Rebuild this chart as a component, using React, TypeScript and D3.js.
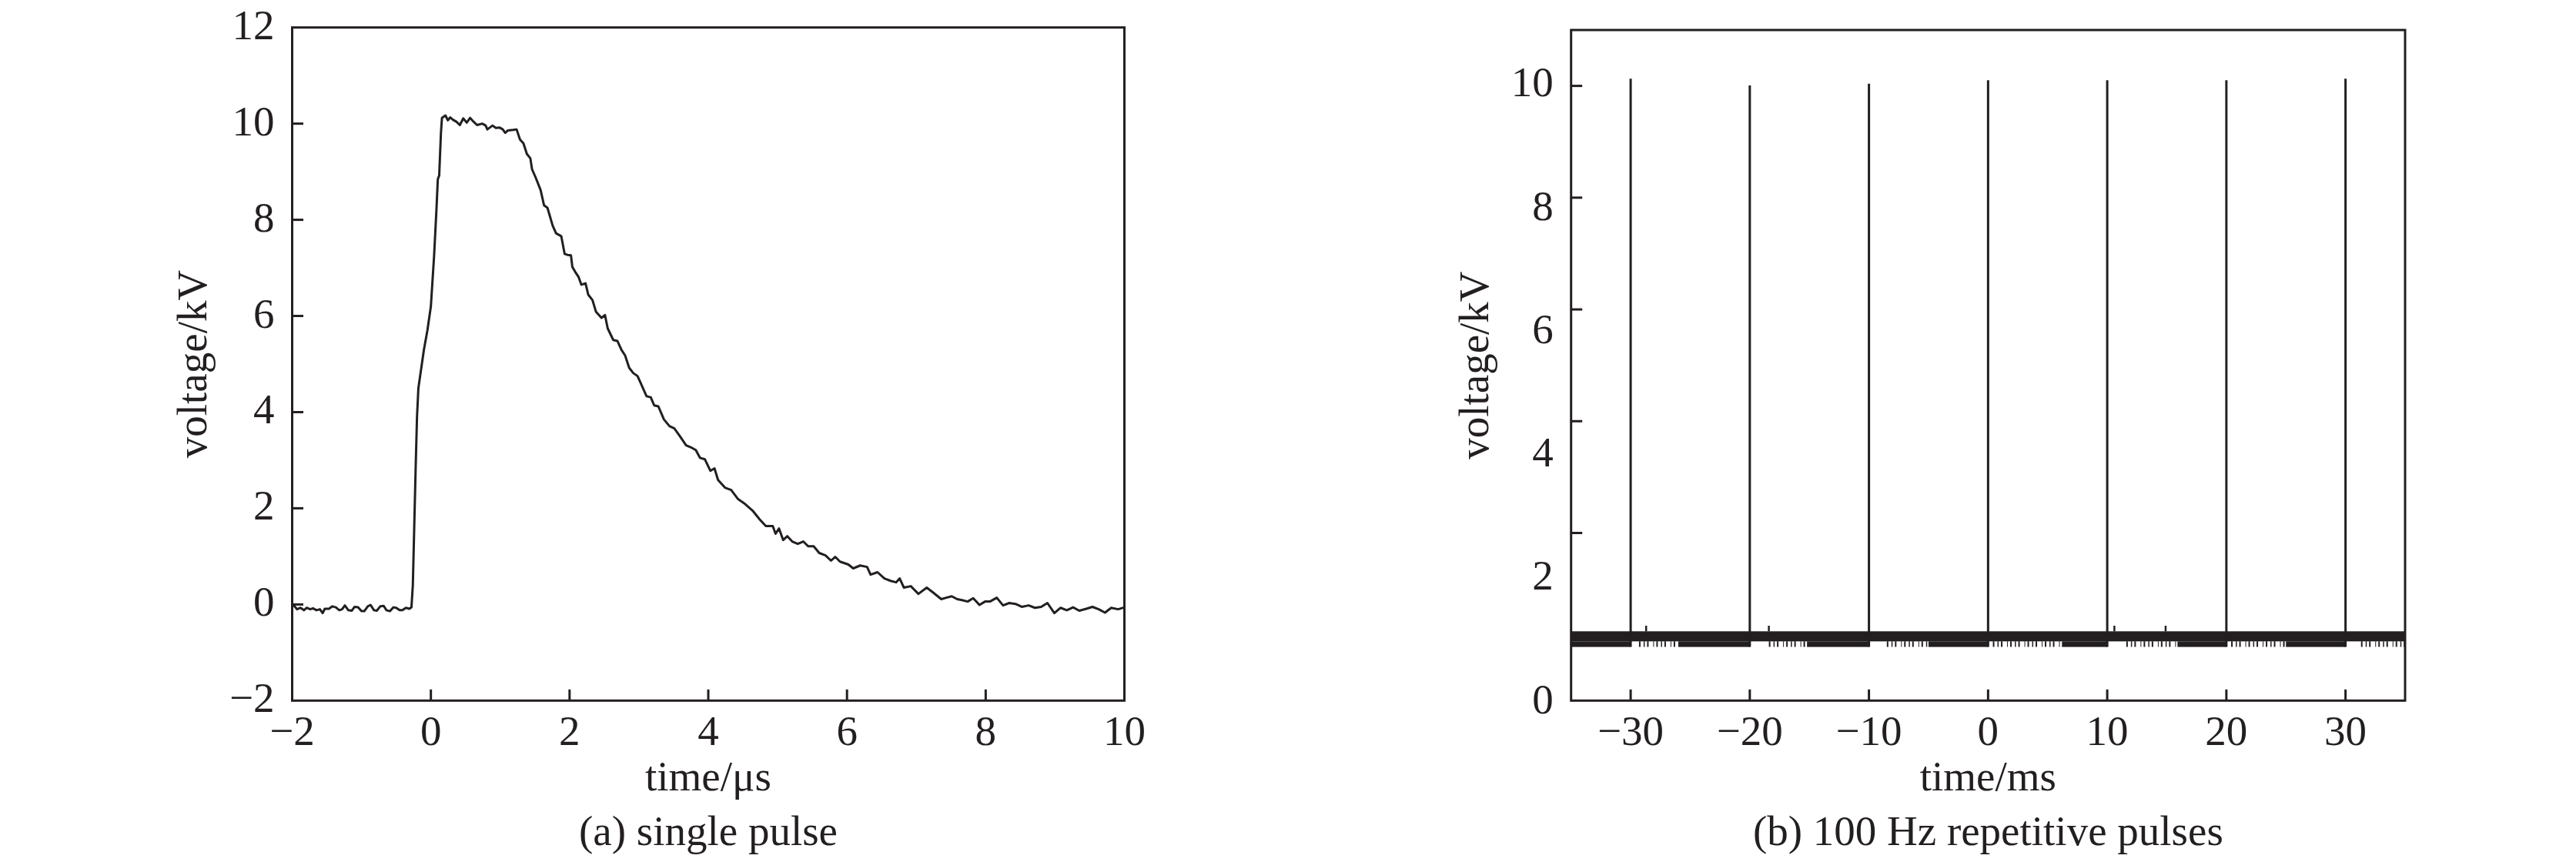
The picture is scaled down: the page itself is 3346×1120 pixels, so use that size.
import React from "react";
import * as d3 from "d3";

const W = 3346;
const H = 1120;
const FONT = "'Liberation Serif', 'Times New Roman', Times, serif";
const INK = "#231f20";

// ---------- (a) single pulse ----------
const singleTime = [
  -2.0, -1.97, -1.93, -1.88, -1.83, -1.79, -1.74, -1.7, -1.65, -1.6, -1.56, -1.53, -1.47, -1.42, -1.37,
  -1.32, -1.28, -1.24, -1.19, -1.14, -1.1, -1.05, -1.0, -0.96, -0.91, -0.87, -0.82, -0.78, -0.73, -0.68,
  -0.64, -0.59, -0.54, -0.5, -0.45, -0.41, -0.36, -0.31, -0.28,
  -0.26, -0.24, -0.22, -0.2, -0.18, -0.15, -0.1, -0.05, 0.0, 0.046, 0.08, 0.1, 0.12, 0.145, 0.16,
  0.19, 0.21, 0.245, 0.279, 0.319, 0.368, 0.418, 0.467, 0.517, 0.566, 0.616, 0.666, 0.74, 0.79, 0.814,
  0.889, 0.938, 0.988, 1.037, 1.072, 1.112, 1.186, 1.236,
  1.285, 1.335, 1.384, 1.434, 1.459, 1.508, 1.582, 1.632, 1.681, 1.756, 1.805, 1.88, 1.929, 1.97,
  2.02, 2.04, 2.08, 2.13, 2.17, 2.23, 2.27, 2.33, 2.38, 2.46, 2.51, 2.55, 2.63, 2.69, 2.75, 2.8, 2.86,
  2.92, 2.98, 3.03, 3.11, 3.17, 3.22, 3.28, 3.36, 3.44, 3.51, 3.59, 3.68, 3.76, 3.82, 3.88, 3.95, 4.03,
  4.09, 4.14, 4.24, 4.33, 4.43, 4.53, 4.64, 4.74, 4.83, 4.93, 4.97, 5.02, 5.08, 5.14, 5.21, 5.29, 5.37,
  5.44, 5.52, 5.6, 5.69, 5.77, 5.83, 5.9, 6.02, 6.09, 6.19, 6.29, 6.34, 6.44, 6.54, 6.63, 6.71, 6.76,
  6.82, 6.92, 7.03, 7.15, 7.24, 7.36, 7.43, 7.51, 7.59, 7.66, 7.74, 7.82, 7.91, 7.99,
  8.06, 8.16, 8.25, 8.34, 8.43, 8.52, 8.62, 8.71, 8.8, 8.89, 8.99, 9.08, 9.17, 9.26, 9.35, 9.45, 9.54,
  9.63, 9.72, 9.81, 9.91, 10.0,
];
const singleVolt = [
  -0.02, -0.03, -0.1, -0.07, -0.12, -0.07, -0.1, -0.08, -0.12, -0.1, -0.18, -0.09, -0.09, -0.04, -0.06,
  -0.12, -0.1, -0.02, -0.12, -0.13, -0.05, -0.06, -0.14, -0.14, -0.04, -0.01, -0.12, -0.13, -0.04, -0.03,
  -0.12, -0.14, -0.06, -0.07, -0.12, -0.12, -0.07, -0.09, -0.06,
  0.4, 1.6, 2.8, 3.9, 4.5, 4.8, 5.3, 5.7, 6.2, 7.24, 8.2, 8.84, 8.92, 9.8, 10.12,
  10.15, 10.17, 10.07, 10.13, 10.08, 10.04, 9.97, 10.11, 10.02, 10.12, 10.04, 9.97, 10.0, 9.96, 9.88,
  9.96, 9.91, 9.92, 9.88, 9.81, 9.86, 9.87, 9.88,
  9.67, 9.59, 9.37, 9.28, 9.05, 8.89, 8.62, 8.3, 8.25, 7.88, 7.72, 7.66, 7.29, 7.27,
  7.26, 7.02, 6.92, 6.81, 6.65, 6.68, 6.44, 6.33, 6.09, 5.96, 6.02, 5.74, 5.5, 5.48, 5.29, 5.18, 4.92,
  4.81, 4.75, 4.59, 4.33, 4.31, 4.14, 4.12, 3.85, 3.71, 3.66, 3.5, 3.31, 3.26, 3.21, 3.05, 3.02, 2.78,
  2.83, 2.59, 2.43, 2.38, 2.19, 2.09, 1.95, 1.77, 1.63, 1.63, 1.47, 1.58, 1.34, 1.42, 1.31, 1.26, 1.31,
  1.21, 1.21, 1.07, 1.02, 0.91, 0.99, 0.89, 0.83, 0.75, 0.81, 0.78, 0.62, 0.67, 0.54, 0.49, 0.46, 0.54,
  0.35, 0.38, 0.22, 0.35, 0.25, 0.11, 0.14, 0.17, 0.11, 0.09, 0.06, 0.13, -0.01, 0.06,
  0.06, 0.14, -0.02, 0.03, 0.01, -0.05, -0.02, -0.07, -0.05, 0.03, -0.18, -0.07, -0.12, -0.06, -0.13,
  -0.09, -0.05, -0.1, -0.17, -0.07, -0.1, -0.06,
];
const aXDomain = [-2, 10];
const aYDomain = [-2, 12];
const aXTicks = [-2, 0, 2, 4, 6, 8, 10];
const aYTicks = [-2, 0, 2, 4, 6, 8, 10, 12];

// ---------- (b) 100 Hz repetitive pulses ----------
const bXDomain = [-35, 35];
const bYDomain = [-1, 11];
const bXTicks = [-30, -20, -10, 0, 10, 20, 30];
const bYTicks = [0, 2, 4, 6, 8, 10];
const bYLabelDomain = [0, 10.87];
const pulseTimes = [-30, -20, -10, 0, 10, 20, 30];
const pulsePeaks = [10.13, 10.01, 10.04, 10.1, 10.1, 10.1, 10.13];
const noiseTop = 0.24;
const noiseMid = 0.06;
const noiseBottom = -0.04;
const denseStart = [-35, -26, -15.2, -5, 6.2, 15.9, 25];
const denseEnd = [-30, -20, -10, 0, 10, 20, 30];
const sparseStart = [-29.3, -18.4, -8.5, 0.4, 11.6, 20.4, 31.3];
const sparseEnd = [-26, -15.2, -5, 6.2, 15.9, 25, 35];
const spikeTimes = [-28.7, -18.4, 10.6, 14.9];
const spikeTops = [0.34, 0.34, 0.34, 0.34];
const minus = (v: number) => (v < 0 ? "\u2212" + Math.abs(v) : String(v));

const FS = 55;
const TICK = 14.5;
const SW = 3;

function Frame({ x0, x1, y0, y1 }: { x0: number; x1: number; y0: number; y1: number }) {
  return (
    <rect x={x0} y={y0} width={x1 - x0} height={y1 - y0} fill="none" stroke={INK} strokeWidth={SW} />
  );
}

function PanelA() {
  const x0 = 379.5, x1 = 1460.5, y0 = 35.7, y1 = 910.3;
  const x = d3.scaleLinear().domain(aXDomain).range([x0, x1]);
  const y = d3.scaleLinear().domain(aYDomain).range([y1, y0]);
  const line = d3
    .line<number>()
    .x((_, i) => x(singleTime[i]))
    .y((d) => y(d));
  const inner = (t: number[], dom: number[]) => t.filter((v) => v !== dom[0] && v !== dom[1]);
  const cx = (x0 + x1) / 2;
  const cy = (y0 + y1) / 2;
  return (
    <g>
      <path d={line(singleVolt) || ""} fill="none" stroke={INK} strokeWidth={3} strokeLinejoin="round" />
      <Frame x0={x0} x1={x1} y0={y0} y1={y1} />
      {inner(aXTicks, aXDomain).map((t) => (
        <line key={"ax" + t} x1={x(t)} x2={x(t)} y1={y1} y2={y1 - TICK} stroke={INK} strokeWidth={SW} />
      ))}
      {inner(aYTicks, aYDomain).map((t) => (
        <line key={"ay" + t} x1={x0} x2={x0 + TICK} y1={y(t)} y2={y(t)} stroke={INK} strokeWidth={SW} />
      ))}
      {aXTicks.map((t) => (
        <text key={"axl" + t} x={x(t)} y={y1 + 58} textAnchor="middle" fontSize={FS} fontFamily={FONT} fill={INK}>
          {minus(t)}
        </text>
      ))}
      {aYTicks.map((t) => (
        <text key={"ayl" + t} x={x0 - 23} y={y(t) + 15} textAnchor="end" fontSize={FS} fontFamily={FONT} fill={INK}>
          {minus(t)}
        </text>
      ))}
      <text x={cx} y={1027} textAnchor="middle" fontSize={FS} fontFamily={FONT} fill={INK}>
        time/μs
      </text>
      <text x={cx} y={1098} textAnchor="middle" fontSize={FS} fontFamily={FONT} fill={INK}>
        (a) single pulse
      </text>
      <text
        transform={`translate(268,${cy}) rotate(-90)`}
        textAnchor="middle"
        fontSize={FS}
        fontFamily={FONT}
        fill={INK}
      >
        voltage/kV
      </text>
    </g>
  );
}

function PanelB() {
  const x0 = 2040.7, x1 = 3124, y0 = 39, y1 = 910.3;
  const x = d3.scaleLinear().domain(bXDomain).range([x0, x1]);
  const y = d3.scaleLinear().domain(bYDomain).range([y1, y0]);
  const yl = d3.scaleLinear().domain(bYLabelDomain).range([y1, y0]);
  const cx = (x0 + x1) / 2;
  const cy = (y0 + y1) / 2;
  const lowH = y(noiseBottom) - y(noiseMid);
  return (
    <g>
      <rect x={x(bXDomain[0])} width={x(bXDomain[1]) - x(bXDomain[0])} y={y(noiseTop)} height={y(noiseMid) - y(noiseTop)} fill={INK} />
      {denseStart.map((s, i) => (
        <rect key={"dn" + i} x={x(s)} width={x(denseEnd[i]) - x(s)} y={y(noiseMid)} height={lowH} fill={INK} />
      ))}
      {sparseStart.map((s, i) => (
        <line
          key={"sp" + i}
          x1={x(s)}
          x2={x(sparseEnd[i])}
          y1={(y(noiseMid) + y(noiseBottom)) / 2}
          y2={(y(noiseMid) + y(noiseBottom)) / 2}
          stroke={INK}
          strokeWidth={lowH}
          strokeDasharray="2 4 1.5 3 2 6 1 3"
        />
      ))}
      {spikeTimes.map((t, i) => (
        <line key={"sk" + i} x1={x(t)} x2={x(t)} y1={y(noiseTop)} y2={y(spikeTops[i])} stroke={INK} strokeWidth={2.5} />
      ))}
      {pulseTimes.map((t, i) => (
        <line key={"pl" + i} x1={x(t)} x2={x(t)} y1={y(noiseBottom)} y2={y(pulsePeaks[i])} stroke={INK} strokeWidth={3} />
      ))}
      <Frame x0={x0} x1={x1} y0={y0} y1={y1} />
      {bXTicks.map((t) => (
        <line key={"bx" + t} x1={x(t)} x2={x(t)} y1={y1} y2={y1 - TICK} stroke={INK} strokeWidth={SW} />
      ))}
      {bYTicks.map((t) => (
        <line key={"by" + t} x1={x0} x2={x0 + TICK} y1={y(t)} y2={y(t)} stroke={INK} strokeWidth={SW} />
      ))}
      {bXTicks.map((t) => (
        <text key={"bxl" + t} x={x(t)} y={y1 + 58} textAnchor="middle" fontSize={FS} fontFamily={FONT} fill={INK}>
          {minus(t)}
        </text>
      ))}
      {bYTicks.map((t) => (
        <text key={"byl" + t} x={x0 - 23} y={yl(t) + 16.5} textAnchor="end" fontSize={FS} fontFamily={FONT} fill={INK}>
          {minus(t)}
        </text>
      ))}
      <text x={cx} y={1027} textAnchor="middle" fontSize={FS} fontFamily={FONT} fill={INK}>
        time/ms
      </text>
      <text x={cx} y={1098} textAnchor="middle" fontSize={FS} fontFamily={FONT} fill={INK}>
        (b) 100 Hz repetitive pulses
      </text>
      <text
        transform={`translate(1933,${cy}) rotate(-90)`}
        textAnchor="middle"
        fontSize={FS}
        fontFamily={FONT}
        fill={INK}
      >
        voltage/kV
      </text>
    </g>
  );
}

export default function App() {
  return (
    <svg
      width={W}
      height={H}
      viewBox={`0 0 ${W} ${H}`}
      style={{ position: "absolute", left: 0, top: 0, display: "block", background: "#fff" }}
    >
      <rect x={0} y={0} width={W} height={H} fill="#fff" />
      <PanelA />
      <PanelB />
    </svg>
  );
}
